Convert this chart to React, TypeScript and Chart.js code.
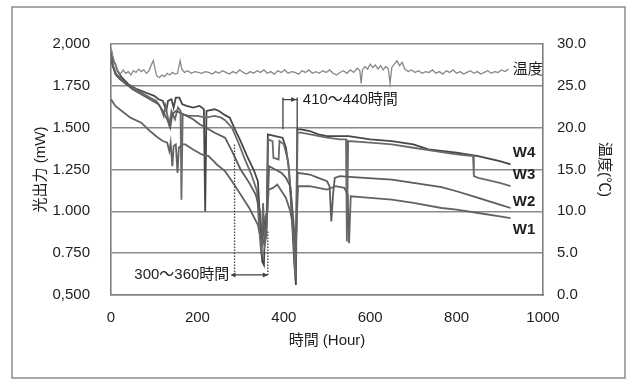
import React, { useEffect, useRef } from "react";
import { Chart, registerables } from "chart.js";

Chart.register(...registerables);

// ---------- axis labels ----------
const xTickLabels = ["0", "200", "400", "600", "800", "1000"];
const leftTickLabels = ["0,500", "0.750", "1.000", "1.250", "1.500", "1.750", "2,000"];
const rightTickLabels = ["0.0", "5.0", "10.0", "15.0", "20.0", "25.0", "30.0"];

// ---------- series (hours, optical output mW) ----------
const w4Hours = [0, 5, 10, 15, 25, 40, 60, 80, 100, 110, 120, 128, 132, 140, 145, 150, 158, 165, 175, 190, 205, 215, 218, 221, 240, 250, 264, 275, 285, 300, 315, 330, 340, 345, 350, 354, 357, 360, 363, 380, 397, 405, 412, 418, 424, 428, 431, 440, 460, 480, 500, 550, 600, 650, 700, 735, 800, 850, 900, 925];
const w4Values = [1.97, 1.90, 1.88, 1.84, 1.80, 1.76, 1.73, 1.71, 1.69, 1.67, 1.66, 1.60, 1.66, 1.67, 1.62, 1.68, 1.68, 1.64, 1.63, 1.62, 1.63, 1.61, 1.00, 1.60, 1.61, 1.60, 1.575, 1.56, 1.50, 1.42, 1.33, 1.25, 1.18, 0.95, 0.70, 0.68, 0.95, 0.90, 1.46, 1.45, 1.44, 1.38, 1.25, 1.00, 0.70, 0.56, 1.49, 1.49, 1.48, 1.46, 1.45, 1.45, 1.43, 1.42, 1.40, 1.37, 1.35, 1.33, 1.30, 1.28];

const w3Hours = [0, 5, 12, 20, 35, 50, 70, 90, 105, 115, 122, 126, 135, 140, 148, 155, 161, 163, 166, 180, 200, 220, 240, 255, 264, 280, 295, 310, 325, 338, 343, 348, 352, 356, 360, 364, 374, 376, 388, 390, 400, 410, 418, 424, 427, 432, 440, 500, 530, 544, 546, 549, 600, 650, 700, 750, 800, 838, 840, 850, 900, 925];
const w3Values = [1.93, 1.87, 1.82, 1.80, 1.76, 1.74, 1.71, 1.68, 1.66, 1.62, 1.57, 1.63, 1.52, 1.60, 1.55, 1.62, 1.60, 1.07, 1.58, 1.57, 1.57, 1.56, 1.57, 1.56, 1.545, 1.50, 1.41, 1.31, 1.22, 1.12, 0.90, 0.74, 1.05, 0.80, 0.86, 1.43, 1.42, 1.32, 1.31, 1.42, 1.40, 1.30, 1.05, 0.75, 0.60, 1.47, 1.47, 1.44, 1.43, 1.43, 0.82, 1.42, 1.41, 1.40, 1.38, 1.36, 1.34, 1.33, 1.21, 1.20, 1.17, 1.15];

const w2Hours = [0, 10, 20, 35, 50, 70, 90, 110, 120, 130, 137, 142, 150, 160, 175, 190, 205, 220, 240, 264, 280, 300, 320, 335, 345, 350, 355, 362, 366, 380, 395, 405, 415, 422, 428, 432, 460, 480, 500, 506, 510, 514, 518, 530, 560, 650, 700, 765, 800, 850, 900, 925];
const w2Values = [1.90, 1.82, 1.79, 1.76, 1.73, 1.70, 1.67, 1.64, 1.60, 1.55, 1.50, 1.58, 1.60, 1.59, 1.57, 1.55, 1.52, 1.50, 1.47, 1.44, 1.36, 1.25, 1.17, 1.10, 1.00, 0.80, 0.95, 1.00, 1.27, 1.25, 1.23, 1.20, 1.15, 0.95, 0.75, 1.23, 1.22, 1.20, 1.18, 1.15, 0.94, 1.10, 1.20, 1.21, 1.205, 1.19, 1.17, 1.145, 1.12, 1.08, 1.04, 1.02];

const w1Hours = [0, 10, 25, 45, 70, 90, 109, 120, 130, 135, 138, 142, 145, 150, 154, 157, 165, 172, 190, 210, 226, 245, 264, 280, 300, 320, 340, 350, 358, 365, 375, 385, 395, 405, 415, 422, 428, 433, 460, 480, 500, 520, 540, 548, 551, 555, 600, 650, 700, 765, 800, 850, 900, 925];
const w1Values = [1.67, 1.63, 1.60, 1.56, 1.53, 1.48, 1.44, 1.42, 1.41, 1.36, 1.41, 1.27, 1.39, 1.40, 1.23, 1.38, 1.40, 1.40, 1.37, 1.34, 1.33, 1.28, 1.24, 1.18, 1.10, 1.02, 0.92, 0.80, 0.85, 1.13, 1.14, 1.16, 1.12, 1.08, 1.00, 0.90, 0.82, 1.15, 1.15, 1.14, 1.13, 1.15, 1.14, 1.10, 0.81, 1.09, 1.08, 1.07, 1.05, 1.02, 1.01, 0.99, 0.97, 0.96];

// ---------- temperature (hours, °C) ----------
const tempHours = [0, 4, 8, 12, 16, 22, 28, 34, 40, 46, 52, 58, 64, 70, 76, 82, 88, 94, 98, 102, 106, 112, 118, 124, 130, 136, 142, 148, 154, 160, 164, 170, 178, 186, 194, 202, 210, 218, 226, 234, 242, 250, 258, 266, 274, 282, 290, 298, 306, 314, 322, 330, 338, 346, 354, 362, 370, 378, 386, 394, 402, 410, 418, 426, 434, 442, 450, 458, 466, 474, 482, 490, 498, 506, 514, 522, 530, 538, 546, 554, 562, 570, 576, 579, 582, 588, 594, 600, 606, 612, 618, 624, 630, 636, 642, 646, 650, 656, 662, 668, 674, 680, 688, 696, 704, 712, 720, 728, 736, 744, 752, 760, 768, 776, 784, 792, 800, 808, 816, 824, 832, 840, 848, 856, 864, 872, 880, 888, 896, 904, 912, 920];
const tempValues = [29.4, 28.6, 27.9, 27.2, 26.8, 26.4, 26.9, 26.5, 26.7, 26.3, 26.8, 26.6, 27.0, 26.7, 26.9, 26.5, 26.8, 27.6, 28.0, 27.0, 26.2, 26.0, 26.3, 26.1, 26.5, 26.3, 26.6, 26.4, 26.5, 28.0, 27.0, 26.6, 26.8, 26.5, 26.7, 26.6, 26.5, 26.7, 26.6, 26.4, 26.7, 26.5, 26.8, 26.6, 26.4, 26.7, 26.5, 26.9, 26.6, 26.4, 26.7, 26.5, 26.8, 26.6, 26.9, 26.5, 26.7, 26.4, 26.8, 26.6, 26.9, 26.5, 26.7, 26.6, 26.4, 26.8, 26.6, 26.9, 26.5, 26.7, 26.5, 26.8, 26.6, 26.9, 26.5, 26.3, 26.6, 26.8, 26.5, 26.9, 26.6, 27.1, 26.8, 25.3, 26.9, 27.3, 27.0, 27.6, 27.2, 27.5, 27.0, 27.4, 26.9, 27.3, 27.0, 25.3, 27.2, 27.6, 28.0, 27.4, 27.8, 27.0, 26.7, 26.9, 26.6, 26.8, 26.5, 26.7, 26.6, 26.9, 26.5, 26.7, 26.4, 26.8, 26.6, 26.9, 26.5, 26.7, 26.4, 26.6, 26.8, 26.5, 26.7, 26.4, 26.6, 26.8, 26.5, 26.7, 26.6, 26.9, 26.7, 27.0];

// ---------- in-plot labels / annotations ----------
const seriesLabels = [
  { text: "W4", value: 1.348, bold: true },
  { text: "W3", value: 1.217, bold: true },
  { text: "W2", value: 1.056, bold: true },
  { text: "W1", value: 0.888, bold: true },
  { text: "温度", value: 1.845, bold: false },
];
const seriesLabelHour = 930;
const lateNote = { text: "410～440時間", fromHour: 398, toHour: 431, arrowValue: 1.668, bottomValue: 1.49, textHour: 444 };
const earlyNote = { text: "300～360時間", fromHour: 286, toHour: 363, arrowValue: 0.62, leftTop: 1.40, rightTop: 0.88, textRightHour: 274 };

const FONT = "'Liberation Sans', 'Noto Sans CJK JP', sans-serif";
const TEXT = "#1e1e1e";
const AXIS = "#7e7e7e";

const toPoints = (hs: number[], vs: number[]) => hs.map((h, i) => ({ x: h, y: vs[i] }));

function drawArrowHead(ctx: CanvasRenderingContext2D, x: number, y: number, dir: number) {
  ctx.beginPath();
  ctx.moveTo(x, y);
  ctx.lineTo(x - dir * 5, y - 2.5);
  ctx.lineTo(x - dir * 5, y + 2.5);
  ctx.closePath();
  ctx.fill();
}

const decorPlugin = {
  id: "decor",
  beforeDraw(chart: any) {
    const ctx = chart.ctx as CanvasRenderingContext2D;
    ctx.save();
    ctx.fillStyle = "#ffffff";
    ctx.fillRect(0, 0, chart.width, chart.height);
    ctx.strokeStyle = "#8c8c8c";
    ctx.lineWidth = 1.5;
    ctx.strokeRect(12, 7, 613, 371);
    ctx.restore();
  },
  afterDatasetsDraw(chart: any) {
    const ctx = chart.ctx as CanvasRenderingContext2D;
    const xs = chart.scales.x;
    const ys = chart.scales.y;
    const px = (h: number) => xs.getPixelForValue(h);
    const py = (v: number) => ys.getPixelForValue(v);
    ctx.save();
    ctx.strokeStyle = "#404040";
    ctx.fillStyle = "#404040";
    ctx.lineWidth = 1.3;

    // 410-440 bracket
    const ay = py(lateNote.arrowValue);
    ctx.beginPath();
    ctx.moveTo(px(lateNote.fromHour), ay - 2);
    ctx.lineTo(px(lateNote.fromHour), py(lateNote.bottomValue));
    ctx.moveTo(px(lateNote.toHour), ay - 2);
    ctx.lineTo(px(lateNote.toHour), py(lateNote.bottomValue));
    ctx.moveTo(px(lateNote.fromHour), ay);
    ctx.lineTo(px(lateNote.toHour), ay);
    ctx.stroke();
    drawArrowHead(ctx, px(lateNote.toHour) - 1, ay, 1);

    // 300-360 bracket (dotted)
    const by = py(earlyNote.arrowValue);
    ctx.setLineDash([1.5, 1.5]);
    ctx.beginPath();
    ctx.moveTo(px(earlyNote.fromHour), py(earlyNote.leftTop));
    ctx.lineTo(px(earlyNote.fromHour), by);
    ctx.moveTo(px(earlyNote.toHour), py(earlyNote.rightTop));
    ctx.lineTo(px(earlyNote.toHour), by);
    ctx.stroke();
    ctx.setLineDash([]);
    ctx.beginPath();
    ctx.moveTo(px(earlyNote.fromHour) - 3, by);
    ctx.lineTo(px(earlyNote.toHour), by);
    ctx.stroke();
    drawArrowHead(ctx, px(earlyNote.fromHour) - 4, by, -1);
    drawArrowHead(ctx, px(earlyNote.toHour), by, 1);

    // texts
    ctx.fillStyle = TEXT;
    ctx.textBaseline = "middle";
    ctx.font = `15px ${FONT}`;
    ctx.textAlign = "left";
    ctx.fillText(lateNote.text, px(lateNote.textHour), ay);
    ctx.textAlign = "right";
    ctx.fillText(earlyNote.text, px(earlyNote.textRightHour), by);

    ctx.textAlign = "left";
    for (const l of seriesLabels) {
      ctx.font = `${l.bold ? "bold " : ""}15px ${FONT}`;
      ctx.fillText(l.text, px(seriesLabelHour), py(l.value));
    }
    ctx.restore();
  },
};

export default function App() {
  const canvasRef = useRef<HTMLCanvasElement | null>(null);

  useEffect(() => {
    if (!canvasRef.current) return;
    const lineDs = (label: string, hs: number[], vs: number[], color: string, width: number, axis = "y") => ({
      label,
      data: toPoints(hs, vs),
      borderColor: color,
      backgroundColor: color,
      borderWidth: width,
      pointRadius: 0,
      tension: 0,
      fill: false,
      yAxisID: axis,
    });
    const tickFont = { family: FONT, size: 15 };
    const chart = new Chart(canvasRef.current, {
      type: "line",
      data: {
        datasets: [
          lineDs("温度", tempHours, tempValues, "#888888", 1.3, "y2"),
          lineDs("W1", w1Hours, w1Values, "#636363", 1.8),
          lineDs("W2", w2Hours, w2Values, "#5c5c5c", 1.8),
          lineDs("W3", w3Hours, w3Values, "#6a6a6a", 1.8),
          lineDs("W4", w4Hours, w4Values, "#474747", 1.8),
        ],
      },
      options: {
        responsive: false,
        animation: false,
        devicePixelRatio: 1,
        layout: { padding: { top: 44, left: 0, right: 0, bottom: 0 } },
        plugins: { legend: { display: false }, tooltip: { enabled: false } },
        scales: {
          x: {
            type: "linear",
            min: 0,
            max: 1000,
            afterFit: (s: any) => { s.height = 86; },
            grid: { display: false, drawTicks: false },
            border: { display: true, color: AXIS, width: 1.6 },
            ticks: {
              stepSize: 200,
              padding: 14,
              color: TEXT,
              font: tickFont,
              callback: (v: any) => xTickLabels[Math.round(Number(v) / 200)] ?? "",
            },
            title: {
              display: true,
              text: "時間 (Hour)",
              color: TEXT,
              font: { family: FONT, size: 15 },
              padding: { top: 0, bottom: 31 },
            },
          },
          y: {
            type: "linear",
            position: "left",
            min: 0.5,
            max: 2.0,
            afterFit: (s: any) => { s.width = 111; },
            grid: { color: "#8a8a8a", lineWidth: 1.6, drawTicks: false },
            border: { display: true, color: AXIS, width: 1.6 },
            ticks: {
              stepSize: 0.25,
              padding: 21,
              color: TEXT,
              font: tickFont,
              callback: (v: any) => leftTickLabels[Math.round((Number(v) - 0.5) / 0.25)] ?? "",
            },
            title: {
              display: true,
              text: "光出力 (mW)",
              color: TEXT,
              font: { family: FONT, size: 15 },
              padding: { top: 32, bottom: 0 },
            },
          },
          y2: {
            type: "linear",
            position: "right",
            min: 0,
            max: 30,
            afterFit: (s: any) => { s.width = 90; },
            grid: { display: false, drawTicks: false },
            border: { display: true, color: AXIS, width: 1.6 },
            ticks: {
              stepSize: 5,
              padding: 14,
              color: TEXT,
              font: tickFont,
              callback: (v: any) => rightTickLabels[Math.round(Number(v) / 5)] ?? "",
            },
            title: {
              display: true,
              text: "温度(℃)",
              color: TEXT,
              font: { family: FONT, size: 15 },
              padding: { top: 20, bottom: 0 },
            },
          },
        },
      },
      plugins: [decorPlugin],
    } as any);
    return () => chart.destroy();
  }, []);

  return (
    <div style={{ position: "absolute", left: 0, top: 0, width: 633, height: 381, background: "#fff" }}>
      <canvas ref={canvasRef} width={633} height={381} style={{ display: "block" }} />
    </div>
  );
}
